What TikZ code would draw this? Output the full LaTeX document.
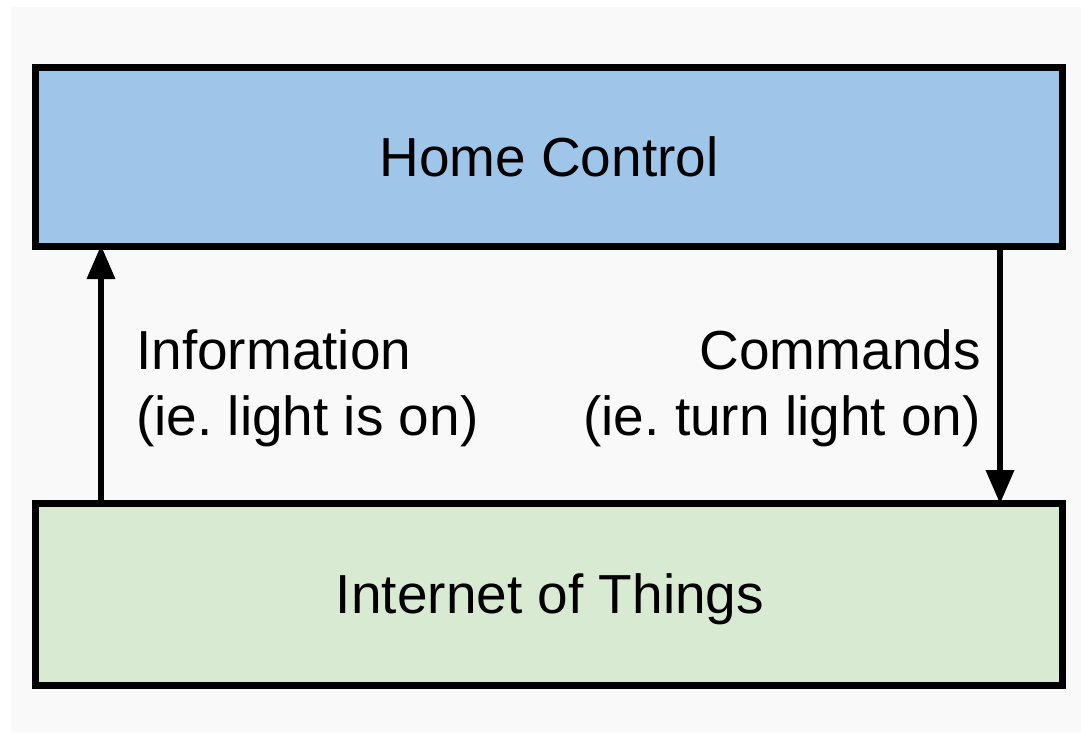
\documentclass[tikz,border=0pt]{standalone}
\usepackage{fontspec}
\setmainfont{Liberation Sans}
\usetikzlibrary{arrows.meta}
\definecolor{pagegrey}{HTML}{F9F9F9}
\definecolor{ctrlblue}{HTML}{9FC5E8}
\definecolor{iotgreen}{HTML}{D9EAD3}
\tikzset{
  block/.style={draw=black, line width=7pt, minimum width=1026.5pt, inner sep=0pt, outer sep=0pt},
  flow/.style={line width=6.5pt, -{Triangle[width=27pt,length=34pt]}, shorten >=-1pt},
  label/.style={font=\fontsize{55}{66}\selectfont\frenchspacing, inner sep=0pt, text=black}
}
\begin{document}
\begin{tikzpicture}[x=1pt,y=-1pt]
  % page: white surround with a light grey panel
  \useasboundingbox (0,0) rectangle (1081,732);
  \fill[white] (0,0) rectangle (1081,732);
  \fill[pagegrey] (11,7) rectangle (1081,732);

  % the two layers
  \node[block, fill=ctrlblue, minimum height=179pt] (ctrl) at (548.75,156.5) {};
  \node[block, fill=iotgreen, minimum height=182pt] (iot) at (548.75,594) {};
  \node[label, anchor=base] (ctrltxt) at (549,176) {Home Control};
  \node[label, anchor=base] (iottxt) at (550,613) {Internet of Things};

  % connectors between the layers
  \coordinate (upfrom) at (101,503);
  \coordinate (upto) at (101,246);
  \coordinate (downfrom) at (1000,246);
  \coordinate (downto) at (1000,503);
  \draw[flow] (upfrom) -- (upto);
  \draw[flow] (downfrom) -- (downto);

  % connector labels (anchored on the baseline of the second line)
  \node[label, anchor=base west, align=left] (info) at (136,435)
    {Information\\(ie. light is on)};
  \node[label, anchor=base east, align=right] (cmds) at (981,435)
    {Commands\\(ie. turn light on)};
\end{tikzpicture}
\end{document}
